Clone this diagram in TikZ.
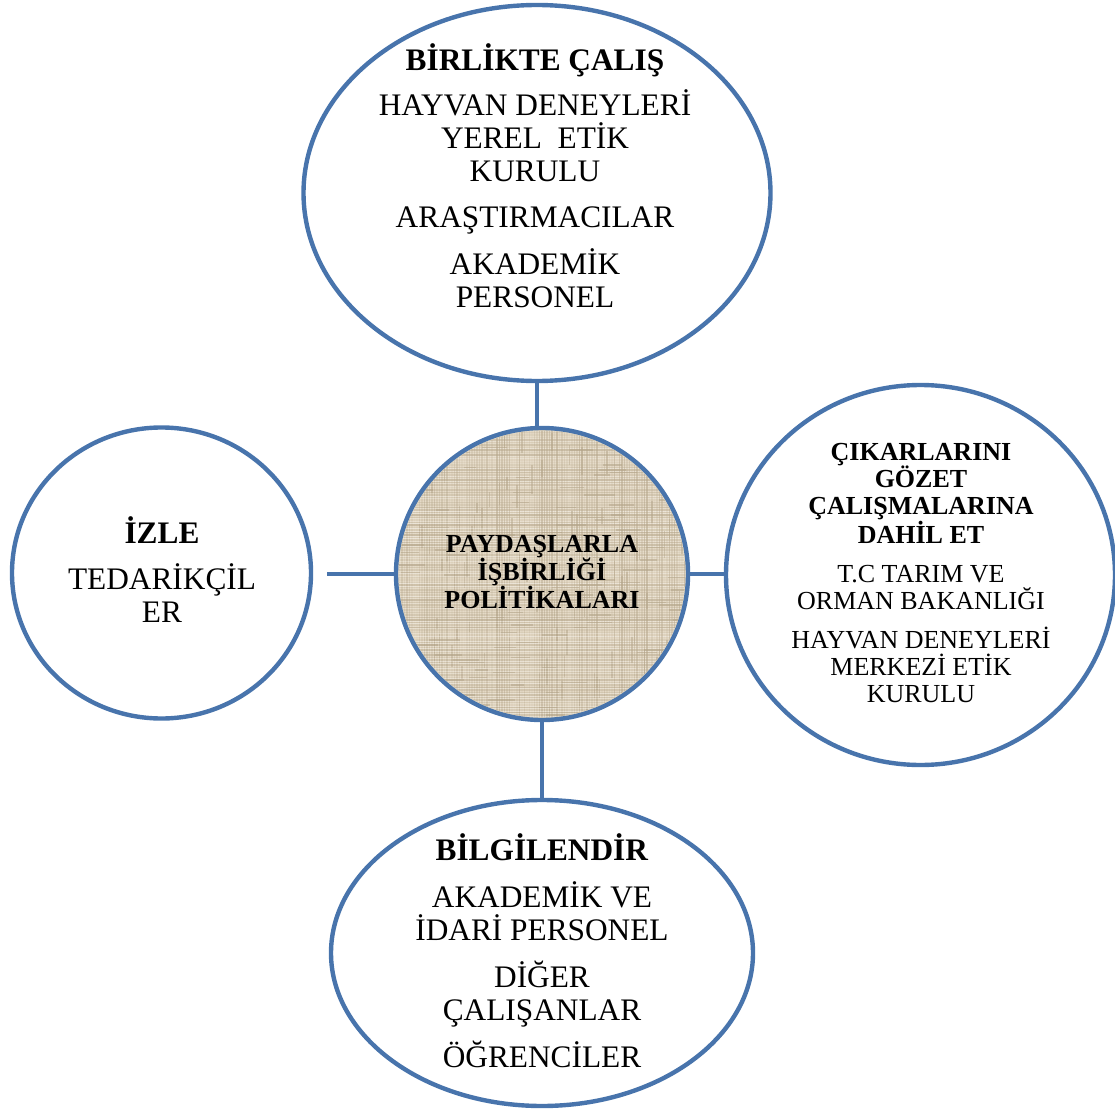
\documentclass[tikz,border=0pt]{standalone}
\usepackage{fontspec}
\setmainfont{Liberation Serif}
\usetikzlibrary{shapes.geometric}
\definecolor{ringblue}{RGB}{72,116,172}
\definecolor{linen}{RGB}{228,217,197}
\definecolor{linendark}{RGB}{180,165,138}
\tikzset{
  ring/.style={ellipse, draw=ringblue, line width=3.3pt, inner sep=0pt, fill=white},
  link/.style={draw=ringblue, line width=3.3pt},
  label/.style={align=center, inner sep=0pt, text=black},
  bigtxt/.style={font=\fontsize{23.5}{24.75}\selectfont},
  smalltxt/.style={font=\fontsize{19.5}{20.25}\selectfont},
}
\begin{document}
\begin{tikzpicture}[x=0.75pt,y=-0.75pt]
\useasboundingbox (0,0) rectangle (1115,1113);
% circles
\node[ring, minimum width=467*0.75pt, minimum height=376*0.75pt] (top) at (537,193) {};
\node[ring, minimum width=299*0.75pt, minimum height=291*0.75pt] (left) at (161.5,573) {};
\node[ring, minimum width=389*0.75pt, minimum height=380*0.75pt] (right) at (920.5,575) {};
\node[ring, minimum width=422*0.75pt, minimum height=306*0.75pt] (bot) at (542,953) {};
\node[ring, fill=linen, minimum width=292*0.75pt, minimum height=292*0.75pt] (ctr) at (542,574) {};
% linen texture
\begin{scope}
  \clip (ctr.center) circle [radius=107.5pt];
  \pgfmathsetseed{11}
  \foreach \i in {0,...,120}{
    \pgfmathsetmacro{\oa}{0.05+0.5*rnd}
    \pgfmathsetmacro{\ob}{0.05+0.5*rnd}
    \pgfmathsetmacro{\oc}{0.35*rnd}
    \pgfmathsetmacro{\sa}{390+300*rnd}
    \pgfmathsetmacro{\sb}{425+300*rnd}
    \draw[linendark, opacity=\oa, line width=0.8pt] (390,425+2.5*\i) -- (694,425+2.5*\i);
    \draw[linendark, opacity=\ob, line width=0.8pt] (392+2.5*\i,422) -- (392+2.5*\i,726);
    \draw[white, opacity=\oc, line width=0.7pt] (390,426.2+2.5*\i) -- (694,426.2+2.5*\i);
    \draw[linendark, opacity=0.5, line width=1.2pt] (\sa,425+2.5*\i) -- ++(12+20*rnd,0);
    \draw[linendark, opacity=0.45, line width=1.2pt] (392+2.5*\i,\sb) -- ++(0,10+20*rnd);
  }
\end{scope}
% connectors
\coordinate (lend) at ([xshift=10.5pt]left.east |- ctr.west);
\draw[link] (top.south) -- (top.south |- ctr.north);
\draw[link] (lend) -- (ctr.west);
\draw[link] (ctr.east) -- (ctr.east -| right.west);
\draw[link] (ctr.south) -- (bot.north);
% texts
\node[label, bigtxt] (toptxt) at (535,175.5) {\textbf{BİRLİKTE ÇALIŞ}\\[9pt]
  HAYVAN DENEYLERİ\\ YEREL\ \ ETİK\\ KURULU\\[9.75pt]
  ARAŞTIRMACILAR\\[10.5pt] AKADEMİK\\ PERSONEL};
\node[label, bigtxt] (lefttxt) at (162,569.5) {\textbf{İZLE}\\[9.75pt] TEDARİKÇİL\\ ER};
\node[label, font=\fontsize{19.5}{21}\selectfont\bfseries] (ctrtxt) at (542,572.5)
  {PAYDAŞLARLA\\ İŞBİRLİĞİ\\ POLİTİKALARI};
\node[label, smalltxt] (righttxt) at (921,573) {\textbf{ÇIKARLARINI}\\ \textbf{GÖZET}\\
  \textbf{ÇALIŞMALARINA}\\ \textbf{DAHİL ET}\\[9pt]
  T.C TARIM VE\\ ORMAN BAKANLIĞI\\[9pt]
  HAYVAN DENEYLERİ\\ MERKEZİ ETİK\\ KURULU};
\node[label, bigtxt] (bottxt) at (542,951) {\textbf{BİLGİLENDİR}\\[10pt]
  AKADEMİK VE\\ İDARİ PERSONEL\\[10.5pt]
  DİĞER\\ ÇALIŞANLAR\\[10pt] ÖĞRENCİLER};
\end{tikzpicture}
\end{document}
